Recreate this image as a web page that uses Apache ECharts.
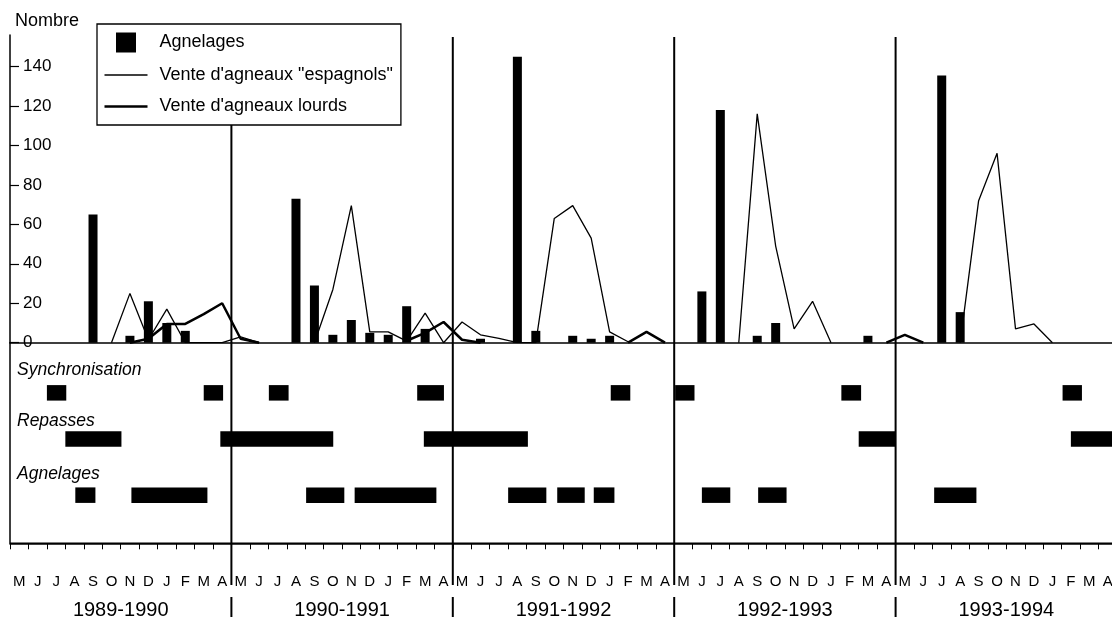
<!DOCTYPE html>
<html><head><meta charset="utf-8">
<script src="https://cdn.jsdelivr.net/npm/echarts@6/dist/echarts.min.js"></script>
<style>html,body{margin:0;padding:0;background:#fff}#c{width:1112px;height:617px}</style>
</head><body><div id="c"></div>
<script>
// ---- Data ----
const monthLetters = ['M','J','J','A','S','O','N','D','J','F','M','A'];
const seasons = ['1989-1990','1990-1991','1991-1992','1992-1993','1993-1994'];
const yTicks = [0, 20, 40, 60, 80, 100, 120, 140];
const seasonBounds = [12, 24, 36, 48];

// Agnelages (bars), one value per month, May 1989 -> April 1994
const agnelages = [
  null, null, null, null, 65, null, 3.5, 21, 10, 6, null, null,
  null, null, null, 73, 29, 4, 11.5, 5, 4, 18.5, 7, null,
  null, 2, null, 145, 6, null, 3.5, 2, 3.5, null, null, null,
  null, 26, 118, null, 3.5, 10, null, null, null, null, 3.5, null,
  null, null, 135.5, 15.5, null, null, null, null, null, null, null, null
];
// Vente d'agneaux "espagnols" (thin line)
const espagnols = [
  null, null, null, null, null, 0, 25, 1.5, 17, 0, 0, 0,
  3, 0, null, null, 0, 27, 69.5, 5.5, 5.5, 0.8, 15, 0,
  10.5, 4, 2.2, 0, 0, 63, 69.5, 53, 5.5, 0.5, null, null,
  null, null, null, 0, 116, 49, 7, 21, 0, null, null, null,
  null, null, null, 0, 72, 96, 7, 9.5, 0, null, null, null
];
// Vente d'agneaux lourds (thick line)
const lourds = [
  null, null, null, null, null, null, 0, 2, 9.5, 9.5, 14.5, 20,
  2, 0, null, null, null, null, null, null, null, 1, 5, 10.5,
  1.5, 0, null, null, null, null, null, null, null, 0, 5.5, 0,
  null, null, null, null, null, null, null, null, null, null, null, 0,
  4, 0, null, null, null, null, null, null, null, null, null, null
];
// Periods in months from the start of May 1989
const syncPeriods = [[2, 3.05], [10.5, 11.55], [14.03, 15.1], [22.07, 23.52], [32.56, 33.62], [36.05, 37.1], [45.06, 46.13], [57.05, 58.1]];
const repassePeriods = [[3, 6.04], [11.4, 17.52], [22.43, 28.07], [46, 48], [57.5, 60]];
const agnelagePeriods = [[3.54, 4.63], [6.58, 10.7], [16.05, 18.12], [18.68, 23.11], [27, 29.07], [29.66, 31.15], [31.64, 32.76], [37.5, 39.04], [40.55, 42.09], [50.09, 52.38]];
const rowNames = ['Synchronisation', 'Repasses', 'Agnelages'];

// ---- Build ----
const months = [], monthLabels = [];
seasons.forEach(s => monthLetters.forEach((m, i) => { months.push(s + '_' + i); monthLabels.push(m); }));
const gantt = [];
[syncPeriods, repassePeriods, agnelagePeriods].forEach((arr, r) => arr.forEach(p => gantt.push([p[0], p[1], r])));

const FONT = '"Liberation Sans", Arial, Helvetica, sans-serif';
const ROW_LEVEL = [1, 1.92, 3.04];
const NAME_ESP = 'Vente d\'agneaux "espagnols"';
const NAME_LRD = "Vente d'agneaux lourds";

const chart = echarts.init(document.getElementById('c'), null, {renderer: 'canvas'});
chart.setOption({
  animation: false,
  backgroundColor: '#fff',
  textStyle: {fontFamily: FONT, color: '#000'},
  grid: [
    {left: 10, top: 35, width: 1107, height: 307.7, outerBoundsMode: 'none', containLabel: false},
    {left: 10, top: 342.7, width: 1107, height: 200.6, outerBoundsMode: 'none', containLabel: false},
    {left: 10, top: 37, width: 1107, height: 580, outerBoundsMode: 'none', containLabel: false}
  ],
  xAxis: [
    {type: 'category', gridIndex: 0, data: months, axisLine: {show: true, onZero: false, lineStyle: {color: '#000', width: 1.5}},
     axisTick: {show: false}, axisLabel: {show: false}, splitLine: {show: false}},
    {type: 'category', gridIndex: 1, data: monthLabels, position: 'bottom', offset: 0,
     axisLine: {show: true, onZero: false, lineStyle: {color: '#000', width: 1.6}},
     axisTick: {show: true, length: 6, lineStyle: {color: '#000', width: 1}},
     axisLabel: {interval: 0, margin: 31, fontSize: 15, color: '#000', fontFamily: FONT},
     splitLine: {show: false}},
    {type: 'category', gridIndex: 1, data: seasons, position: 'bottom', offset: 0,
     axisLine: {show: false, onZero: false}, axisTick: {show: false},
     axisLabel: {interval: 0, margin: 57, fontSize: 20, color: '#000', fontFamily: FONT},
     splitLine: {show: false}},
    {type: 'value', gridIndex: 1, min: 0, max: 60, show: false},
    {type: 'value', gridIndex: 2, min: 0, max: 60, show: false}
  ],
  yAxis: [
    {type: 'value', gridIndex: 0, min: 0, max: 156, interval: 20,
     name: 'Nombre', nameLocation: 'end', nameGap: 5,
     nameTextStyle: {align: 'left', fontSize: 18, color: '#000', fontFamily: FONT, padding: [0, 0, 0, 5]},
     axisLine: {show: true, lineStyle: {color: '#000', width: 1.5}},
     axisTick: {show: true, inside: true, length: 9, customValues: yTicks, lineStyle: {color: '#000', width: 1.2}},
     axisLabel: {inside: true, margin: 13, fontSize: 17, color: '#000', fontFamily: FONT, customValues: yTicks},
     splitLine: {show: false}},
    {type: 'value', gridIndex: 1, min: 0, max: 4, inverse: true,
     axisLine: {show: true, onZero: false, lineStyle: {color: '#000', width: 1.5}},
     axisTick: {show: false}, axisLabel: {show: false}, splitLine: {show: false}},
    {type: 'value', gridIndex: 2, min: 0, max: 1, show: false}
  ],
  legend: {
    left: 97, top: 24, orient: 'vertical',
    data: [
      {name: 'Agnelages', icon: 'path://M0,0L10,0L10,10L0,10Z'},
      {name: NAME_ESP, icon: 'path://M0,0L43,0L43,1.3L0,1.3Z'},
      {name: NAME_LRD, icon: 'path://M0,0L43,0L43,2.6L0,2.6Z'}
    ],
    itemWidth: 43, itemHeight: 20, itemGap: 13.5,
    padding: [8.5, 8, 9.5, 7.5],
    backgroundColor: '#fff', borderColor: '#000', borderWidth: 1.3,
    itemStyle: {borderWidth: 0},
    textStyle: {fontSize: 18, color: '#000', fontFamily: FONT, padding: [0, 0, 0, 7]},
    selectedMode: false, z: 10
  },
  graphic: [
    {type: 'text', left: 17, top: 361, style: {text: rowNames[0], font: 'italic 17.5px ' + FONT, fill: '#000'}},
    {type: 'text', left: 17, top: 412.5, style: {text: rowNames[1], font: 'italic 17.5px ' + FONT, fill: '#000'}},
    {type: 'text', left: 17, top: 465.5, style: {text: rowNames[2], font: 'italic 17.5px ' + FONT, fill: '#000'}}
  ],
  series: [
    {name: 'Agnelages', type: 'bar', xAxisIndex: 0, yAxisIndex: 0, data: agnelages,
     barWidth: 9, itemStyle: {color: '#000'}, z: 2},
    {name: NAME_ESP, type: 'line', xAxisIndex: 0, yAxisIndex: 0, data: espagnols,
     symbol: 'none', connectNulls: false, lineStyle: {color: '#000', width: 1.3}, itemStyle: {color: '#000'}, z: 3},
    {name: NAME_LRD, type: 'line', xAxisIndex: 0, yAxisIndex: 0, data: lourds,
     symbol: 'none', connectNulls: false, lineStyle: {color: '#000', width: 2.5}, itemStyle: {color: '#000'}, z: 3},
    {name: 'periodes', type: 'custom', xAxisIndex: 3, yAxisIndex: 1, data: gantt,
     encode: {x: [0, 1], y: 2},
     renderItem: function (params, api) {
       const r = api.value(2);
       const a = api.coord([api.value(0), ROW_LEVEL[r]]);
       const b = api.coord([api.value(1), ROW_LEVEL[r]]);
       return {type: 'rect', shape: {x: a[0], y: a[1] - 7.75, width: b[0] - a[0], height: 15.5}, style: {fill: '#000'}};
     }},
    {name: 'cadre', type: 'custom', xAxisIndex: 3, yAxisIndex: 1, data: [[0, 60, 4]],
     encode: {x: [0, 1], y: 2}, z: 5,
     renderItem: function (params, api) {
       const a = api.coord([api.value(0), api.value(2)]);
       const b = api.coord([api.value(1), api.value(2)]);
       return {type: 'line', shape: {x1: a[0], y1: a[1], x2: b[0], y2: b[1]}, style: {stroke: '#000', lineWidth: 1.6}};
     }},
    {name: 'saisons', type: 'custom', xAxisIndex: 4, yAxisIndex: 2, data: seasonBounds.map(v => [v, 0]),
     encode: {x: 0, y: 1}, z: 1,
     renderItem: function (params, api) {
       const top = api.coord([api.value(0), 1]);
       const bot = api.coord([api.value(0), 0]);
       return {type: 'group', children: [
         {type: 'line', shape: {x1: top[0], y1: top[1], x2: top[0], y2: bot[1] - 32}, style: {stroke: '#000', lineWidth: 2}},
         {type: 'line', shape: {x1: top[0], y1: bot[1] - 20, x2: top[0], y2: bot[1]}, style: {stroke: '#000', lineWidth: 2}}
       ]};
     }}
  ]
});
</script>
</body></html>
